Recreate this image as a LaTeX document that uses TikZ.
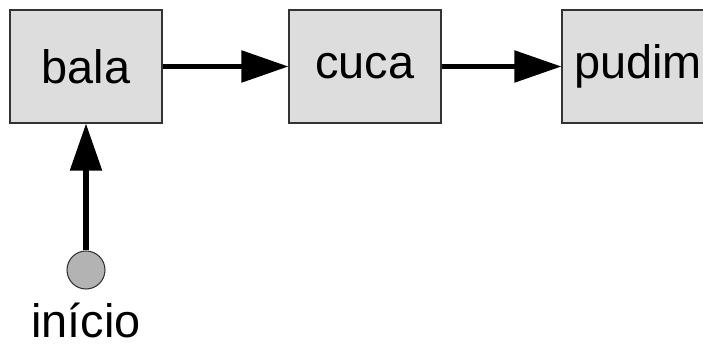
\documentclass[tikz,border=0pt]{standalone}
\usepackage{fontspec}
\setmainfont{Liberation Sans}
\usetikzlibrary{arrows.meta, positioning}

\definecolor{boxfill}{HTML}{DDDDDD}
\definecolor{dotfill}{HTML}{B3B3B3}
\definecolor{edge}{HTML}{333333}

\tikzset{
  caixa/.style={draw=edge, line width=0.9pt, fill=boxfill, minimum width=4.56cm, minimum height=3.39cm, inner sep=0pt, font=\fontsize{40}{44}\selectfont},
  seta/.style={line width=4.5pt, -{Triangle[length=1.41cm, width=0.93cm]}},
  ponto/.style={circle, draw=edge, line width=0.9pt, fill=dotfill, minimum size=1.14cm, inner sep=0pt}
}

\begin{document}
\begin{tikzpicture}[x=0.03cm, y=-0.03cm]
			\useasboundingbox (0,0) rectangle (703,345);
			
			% list of nodes
			\node[caixa] (bala) at (86,66.5) {bala};
			\node[caixa] (cuca) at (365,66.5) {cuca};
			\node[caixa] (pudim) at (638,66.5) {pudim};
			
			% links
			\draw[seta] (bala) -- (cuca);
			\draw[seta] (cuca) -- (pudim);
			
			% start pointer
			\node[ponto] (inicio) at (86,270) {};
			\node[anchor=base, inner sep=0pt, font=\fontsize{40}{44}\selectfont] (rotulo) at (86,337) {início};
			\draw[seta] (inicio) -- (bala);
		\end{tikzpicture}
\end{document}
